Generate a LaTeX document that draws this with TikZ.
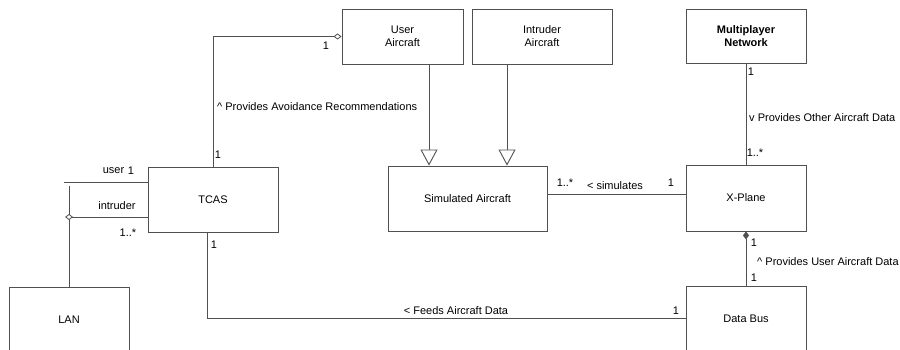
\documentclass[tikz,border=0pt]{standalone}
\usepackage{fontspec}
\setmainfont{Liberation Sans}
\usetikzlibrary{arrows.meta}
\definecolor{linec}{HTML}{505050}
\begin{document}
\begin{tikzpicture}[x=1pt,y=-1pt,
  font=\fontsize{11}{13}\selectfont,
  box/.style={draw=linec, fill=white, line width=0.9pt, rectangle, align=center, inner sep=0pt},
  conn/.style={draw=linec, line width=0.9pt},
  lbl/.style={inner sep=0pt, text=black},
  gen/.style={conn, -{Triangle[open, length=16pt, width=17pt, line width=0.9pt, fill=white]}},
  agg/.style={conn, {Diamond[open, length=8pt, width=6pt, line width=0.8pt, fill=white]}-},
  comp/.style={conn, {Diamond[length=8pt, width=6pt]}-}]
\clip (0,0) rectangle (900,350);
\fill[white] (0,0) rectangle (900,350);
% boxes
\node[box, minimum width=130pt, minimum height=65pt] (tcas) at (213,199.5) {TCAS};
\node[box, minimum width=121pt, minimum height=55pt] (ua) at (402.5,36.5) {User\\Aircraft};
\node[box, minimum width=140pt, minimum height=55pt] (ia) at (542,36.5) {Intruder\\Aircraft};
\node[box, minimum width=120pt, minimum height=54pt, font=\fontsize{11}{13}\selectfont\bfseries] (mn) at (746,36) {Multiplayer\\Network};
\node[box, minimum width=159pt, minimum height=65pt] (sim) at (467.5,198.5) {Simulated Aircraft};
\node[box, minimum width=120pt, minimum height=66pt] (xp) at (746,198) {X-Plane};
\node[box, minimum width=120pt, minimum height=65pt] (db) at (746,318.5) {Data Bus};
\node[box, minimum width=120pt, minimum height=65pt] (lan) at (69,319.5) {LAN};
% helper coordinates
\coordinate (gu) at (429,0);
\coordinate (gi) at (507,0);
\coordinate (hs) at (0,194);
\coordinate (fx) at (207,0);
\coordinate (lantop) at (69,186);
\coordinate (dmd) at (65,217);
\coordinate (ustart) at (64,182);
% connectors
\draw[conn, -{Diamond[open, length=8pt, width=6pt, line width=0.8pt, fill=white]}] (tcas.north) |- (ua.west);
\draw[gen] (ua.south -| gu) -- (sim.north -| gu);
\draw[gen] (ia.south -| gi) -- (sim.north -| gi);
\draw[conn] (sim.east |- hs) -- (xp.west |- hs);
\draw[conn] (mn.south) -- (xp.north);
\draw[comp] (xp.south) -- (db.north);
\draw[conn] (tcas.south -| fx) |- (db.west);
\draw[conn] (lan.north) -- (lantop);
\draw[agg] (dmd) -- (tcas.west |- dmd);
\draw[conn] (ustart) -- (tcas.west |- ustart);
% labels
\node[lbl] (l1) at (326,46) {1};
\node[lbl] (l2) at (218,155) {1};
\node[lbl, anchor=west] (l3) at (217,107) {\textasciicircum{} Provides Avoidance Recommendations};
\node[lbl] (l4) at (565,183) {1..*};
\node[lbl] (l5) at (615,186) {< simulates};
\node[lbl] (l6) at (671,183) {1};
\node[lbl] (l7) at (751,72) {1};
\node[lbl, anchor=west] (l8) at (749,118) {v Provides Other Aircraft Data};
\node[lbl] (l9) at (755,153) {1..*};
\node[lbl] (l10) at (754,243) {1};
\node[lbl, anchor=west] (l11) at (757,262) {\textasciicircum{} Provides User Aircraft Data};
\node[lbl] (l12) at (754,278) {1};
\node[lbl] (l13) at (214,245) {1};
\node[lbl] (l14) at (456,311) {< Feeds Aircraft Data};
\node[lbl] (l15) at (676,311) {1};
\node[lbl] (l16) at (113.5,171) {user};
\node[lbl] (l17) at (131,171) {1};
\node[lbl] (l18) at (117,206) {intruder};
\node[lbl] (l19) at (128,233) {1..*};
\end{tikzpicture}
\end{document}
